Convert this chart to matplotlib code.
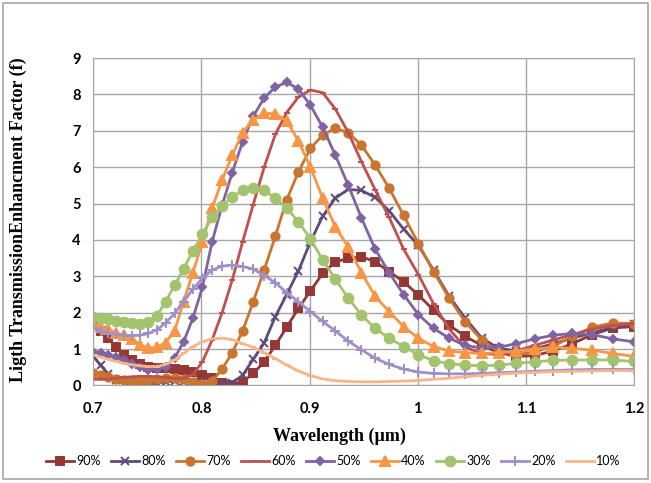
import matplotlib
matplotlib.use('Agg')
import matplotlib.pyplot as plt
from matplotlib.patches import Rectangle

# wavelength grid (um)
wavelength = [0.7000, 0.7069, 0.7138, 0.7210, 0.7282, 0.7356, 0.7432, 0.7509, 0.7588, 0.7669,
              0.7751, 0.7835, 0.7921, 0.8009, 0.8099, 0.8191, 0.8285, 0.8381, 0.8479, 0.8580,
              0.8683, 0.8788, 0.8897, 0.9008, 0.9121, 0.9238, 0.9358, 0.9480, 0.9606, 0.9736,
              0.9869, 1.0006, 1.0146, 1.0291, 1.0439, 1.0593, 1.0750, 1.0913, 1.1080, 1.1253,
              1.1431, 1.1614, 1.1804, 1.2000]

f90 = [1.75, 1.5, 1.3, 1.05, 0.85, 0.7, 0.6, 0.52, 0.48, 0.47, 0.45, 0.42, 0.37, 0.3, 0.2,
       0.08, 0.02, 0.1, 0.33, 0.65, 1.1, 1.6, 2.12, 2.6, 3.08, 3.4, 3.49, 3.54, 3.4, 3.13,
       2.85, 2.49, 2.07, 1.66, 1.35, 1.1, 0.9, 0.8, 0.82, 0.95, 1.15, 1.4, 1.58, 1.62]
f80 = [0.8, 0.55, 0.32, 0.14, 0.05, 0.02, 0.02, 0.04, 0.07, 0.1, 0.12, 0.12, 0.1, 0.06, 0.03,
       0.02, 0.08, 0.28, 0.72, 1.17, 1.89, 2.5, 3.15, 3.95, 4.65, 5.15, 5.39, 5.36, 5.17, 4.8,
       4.3, 3.85, 3.17, 2.45, 1.85, 1.3, 1.02, 0.95, 1.0, 1.15, 1.3, 1.45, 1.6, 1.68]
f70 = [0.35, 0.3, 0.22, 0.17, 0.14, 0.12, 0.12, 0.14, 0.17, 0.2, 0.2, 0.17, 0.1, 0.03, 0.12,
       0.45, 0.9, 1.5, 2.3, 3.17, 4.1, 5.1, 5.87, 6.52, 6.88, 7.07, 6.95, 6.6, 6.06, 5.42,
       4.68, 3.9, 3.13, 2.4, 1.75, 1.25, 0.92, 0.85, 0.92, 1.08, 1.35, 1.6, 1.72, 1.7]
f60 = [0.17, 0.17, 0.18, 0.2, 0.22, 0.24, 0.25, 0.25, 0.24, 0.22, 0.2, 0.2, 0.3, 0.65, 1.25,
       2.0, 2.9, 3.95, 4.97, 6.0, 6.9, 7.5, 7.93, 8.12, 8.05, 7.6, 6.95, 6.15, 5.38, 4.62,
       3.75, 3.05, 2.25, 1.55, 1.05, 0.88, 0.85, 0.95, 1.1, 1.25, 1.4, 1.55, 1.65, 1.7]
f50 = [0.93, 0.9, 0.85, 0.77, 0.7, 0.6, 0.5, 0.43, 0.44, 0.52, 0.75, 1.2, 1.85, 2.7, 3.95,
       4.95, 5.85, 6.7, 7.4, 7.9, 8.2, 8.33, 8.15, 7.7, 7.1, 6.33, 5.5, 4.6, 3.75, 3.1,
       2.5, 1.95, 1.57, 1.3, 1.1, 1.03, 1.05, 1.15, 1.28, 1.38, 1.43, 1.4, 1.28, 1.2]
f40 = [1.72, 1.62, 1.55, 1.45, 1.38, 1.28, 1.12, 1.03, 1.05, 1.18, 1.5, 2.3, 3.1, 3.95, 4.87,
       5.65, 6.33, 6.95, 7.3, 7.48, 7.47, 7.27, 6.72, 6.0, 5.15, 4.36, 3.8, 3.1, 2.45, 2.03,
       1.62, 1.3, 1.07, 0.95, 0.9, 0.88, 0.9, 0.95, 1.0, 1.05, 1.02, 0.97, 0.88, 0.8]
f30 = [1.88, 1.86, 1.83, 1.78, 1.74, 1.71, 1.69, 1.74, 1.92, 2.3, 2.75, 3.2, 3.7, 4.15, 4.64,
       4.93, 5.19, 5.36, 5.42, 5.37, 5.14, 4.88, 4.5, 4.03, 3.45, 2.92, 2.4, 1.94, 1.57, 1.3,
       1.07, 0.85, 0.68, 0.6, 0.56, 0.54, 0.56, 0.61, 0.65, 0.69, 0.7, 0.7, 0.7, 0.66]
f20 = [1.57, 1.5, 1.45, 1.41, 1.38, 1.37, 1.38, 1.43, 1.53, 1.72, 1.98, 2.3, 2.65, 2.95, 3.17,
       3.28, 3.31, 3.27, 3.2, 3.02, 2.83, 2.55, 2.3, 2.03, 1.76, 1.5, 1.22, 0.98, 0.75, 0.58,
       0.45, 0.37, 0.33, 0.32, 0.32, 0.33, 0.35, 0.37, 0.39, 0.41, 0.43, 0.44, 0.44, 0.44]
f10 = [0.84, 0.78, 0.72, 0.66, 0.61, 0.57, 0.54, 0.52, 0.52, 0.58, 0.7, 0.88, 1.07, 1.2, 1.28,
       1.3, 1.26, 1.15, 1.05, 0.9, 0.74, 0.56, 0.4, 0.27, 0.18, 0.13, 0.11, 0.1, 0.1, 0.11,
       0.12, 0.14, 0.17, 0.2, 0.24, 0.28, 0.31, 0.34, 0.36, 0.38, 0.39, 0.4, 0.41, 0.41]

labels = ['90%', '80%', '70%', '60%', '50%', '40%', '30%', '20%', '10%']
series = [f90, f80, f70, f60, f50, f40, f30, f20, f10]
colors = ['#953735', '#604A7B', '#C97530', '#C0504D', '#8064A2',
          '#F79646', '#A3C36E', '#A18FC7', '#F9B587']
markers = ['s', 'x', 'o', '_', 'D', '^', 'o', '+', '_']
msizes = [6, 6, 6, 4.5, 4.5, 6.5, 7, 6.5, 4.5]

fig = plt.figure(figsize=(6.51, 4.83), dpi=100)
ax = fig.add_axes([0.1433, 0.2019, 0.8306, 0.678])

for y, lab, c, m, ms in zip(series, labels, colors, markers, msizes):
    ax.plot(wavelength, y, color=c, lw=2.0, marker=m, markersize=ms,
            markeredgewidth=1.4, markerfacecolor=c, markeredgecolor=c, label=lab)

ax.set_xlim(0.7, 1.2)
ax.set_ylim(0, 9)
ax.set_xticks([0.7, 0.8, 0.9, 1.0, 1.1, 1.2])
ax.set_xticklabels(['0.7', '0.8', '0.9', '1', '1.1', '1.2'])
ax.set_yticks(range(10))
ax.grid(True, color='#A6A6A6', lw=1.0)
ax.set_axisbelow(True)
for s in ax.spines.values():
    s.set_color('#A6A6A6')
ax.tick_params(length=0, labelsize=10.5)
ax.tick_params(axis='x', pad=12)
ax.tick_params(axis='y', pad=9)
for t in ax.get_xticklabels() + ax.get_yticklabels():
    t.set_fontweight('bold')
    t.set_family('Lato')

fig.text(0.028, 0.545, 'Ligth TransmissionEnhancment Factor (f)', rotation=90,
         ha='center', va='center', family='Liberation Serif', weight='bold', fontsize=13)
fig.text(0.522, 0.097, 'Wavelength (\u00b5m)', ha='center', va='center',
         family='Liberation Serif', weight='bold', fontsize=13)

fig.legend(loc='center', bbox_to_anchor=(0.512, 0.045), ncol=9, frameon=False,
           prop={'family': 'Lato', 'size': 9}, handlelength=2.2, handletextpad=0.2,
           columnspacing=0.85)

fig.patches.append(Rectangle((0.004, 0.008), 0.991, 0.985, transform=fig.transFigure,
                             fill=False, edgecolor='#A6A6A6', lw=1.2))

fig.savefig('out.png', dpi=100)
